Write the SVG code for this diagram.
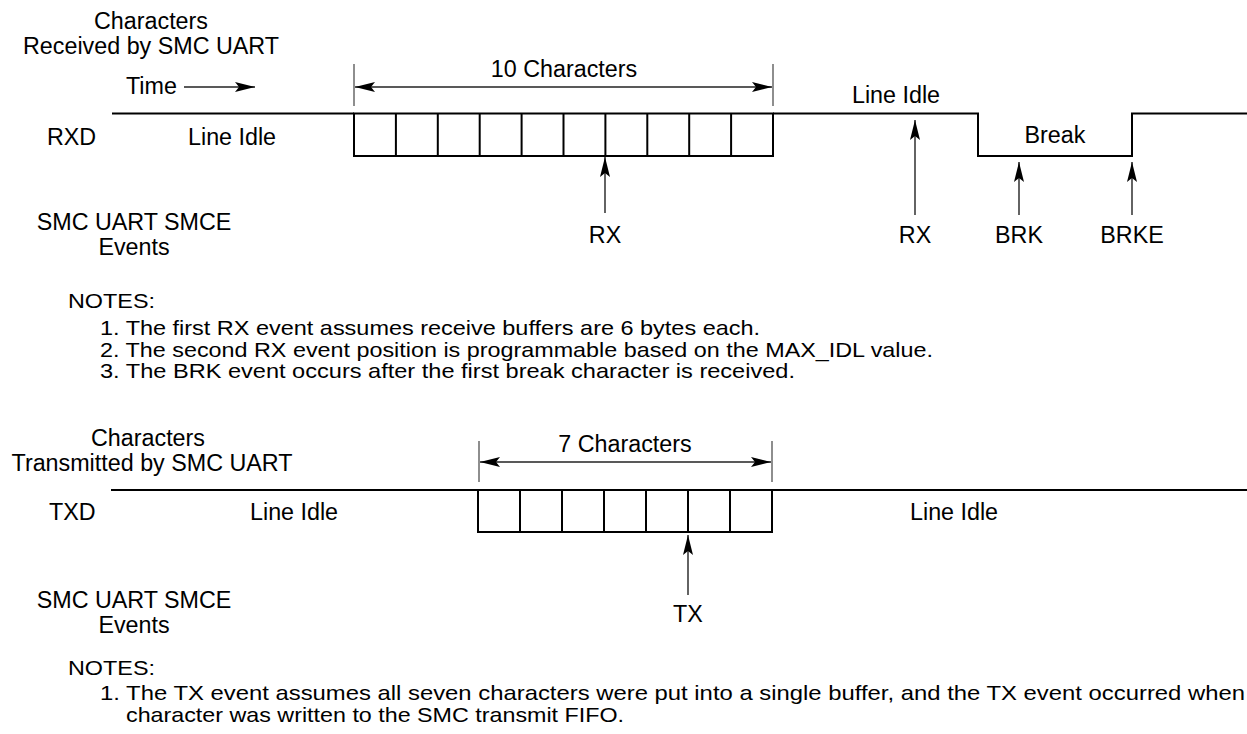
<svg xmlns="http://www.w3.org/2000/svg" width="1247" height="734" viewBox="0 0 1247 734">
<style>
text{font-family:"Liberation Sans",Arial,sans-serif;fill:#000}
.l{font-size:23.3px}
.n{font-size:21px}
.c{text-anchor:middle}
.sig{fill:none;stroke:#000;stroke-width:2}
.ar{fill:none;stroke:#222;stroke-width:1.4}
.tk{fill:none;stroke:#444;stroke-width:1.2}
</style>
<defs>
<marker id="ah" markerUnits="userSpaceOnUse" markerWidth="22" markerHeight="12" refX="20" refY="5" orient="auto-start-reverse" viewBox="0 0 22 10">
<path d="M0,0 L20,5 L0,10 L4,5 z" fill="#000"/>
</marker>
</defs>
<rect width="1247" height="734" fill="#fff"/>

<g id="rx-header">
<text class="l c" x="151" y="29">Characters</text>
<text class="l c" x="151" y="54">Received by SMC UART</text>
<text class="l" x="126" y="94">Time</text>
</g>
<g id="rxd-label"><text class="l" x="47" y="145">RXD</text></g>
<g id="rx-idle1"><text class="l" x="188" y="145">Line Idle</text></g>
<g id="rx-10chars"><text class="l c" x="564" y="77">10 Characters</text></g>
<g id="rx-idle2"><text class="l c" x="896" y="103">Line Idle</text></g>
<g id="rx-break"><text class="l c" x="1055" y="143">Break</text></g>

<g id="rxd-signal">
<path class="sig" d="M112,113.5 H354 M773,113.5 H978 V156 H1132 V113.5 H1247"/>
<rect class="sig" x="354" y="113.5" width="419" height="42.5"/>
<path class="sig" d="M395.9,113.5V156 M437.8,113.5V156 M479.7,113.5V156 M521.6,113.5V156 M563.5,113.5V156 M605.4,113.5V156 M647.3,113.5V156 M689.2,113.5V156 M731.1,113.5V156"/>
</g>

<g id="rx-events-label">
<text class="l c" x="134" y="230">SMC UART SMCE</text>
<text class="l c" x="134" y="255">Events</text>
</g>
<g id="ev-rx1"><text class="l c" x="605" y="243">RX</text></g>
<g id="ev-rx2"><text class="l c" x="915" y="243">RX</text></g>
<g id="ev-brk"><text class="l c" x="1019" y="243">BRK</text></g>
<g id="ev-brke"><text class="l c" x="1132" y="243">BRKE</text></g>

<g id="rx-notes">
<text class="n" x="68" y="308" textLength="87" lengthAdjust="spacingAndGlyphs">NOTES:</text>
<text class="n" x="100" y="335" textLength="660" lengthAdjust="spacingAndGlyphs">1. The first RX event assumes receive buffers are 6 bytes each.</text>
<text class="n" x="100" y="357" textLength="833" lengthAdjust="spacingAndGlyphs">2. The second RX event position is programmable based on the MAX_IDL value.</text>
<text class="n" x="100" y="378" textLength="695" lengthAdjust="spacingAndGlyphs">3. The BRK event occurs after the first break character is received.</text>
</g>

<g id="tx-header">
<text class="l c" x="148" y="446">Characters</text>
<text class="l c" x="152" y="471">Transmitted by SMC UART</text>
</g>
<g id="txd-label"><text class="l" x="49" y="520">TXD</text></g>
<g id="tx-idle1"><text class="l" x="250" y="520">Line Idle</text></g>
<g id="tx-7chars"><text class="l c" x="625" y="452">7 Characters</text></g>
<g id="tx-idle2"><text class="l" x="910" y="520">Line Idle</text></g>

<g id="txd-signal">
<path class="sig" d="M111,490 H1247"/>
<rect class="sig" x="478" y="490" width="294" height="42"/>
<path class="sig" d="M520,490V532 M562,490V532 M604,490V532 M646,490V532 M688,490V532 M730,490V532"/>
</g>

<g id="tx-events-label">
<text class="l c" x="134" y="608">SMC UART SMCE</text>
<text class="l c" x="134" y="633">Events</text>
</g>
<g id="ev-tx"><text class="l c" x="688" y="622">TX</text></g>

<g id="tx-notes">
<text class="n" x="68" y="675" textLength="87" lengthAdjust="spacingAndGlyphs">NOTES:</text>
<text class="n" x="100" y="700" textLength="1145" lengthAdjust="spacingAndGlyphs">1. The TX event assumes all seven characters were put into a single buffer, and the TX event occurred when</text>
<text class="n" x="126" y="722" textLength="498" lengthAdjust="spacingAndGlyphs">character was written to the SMC transmit FIFO.</text>
</g>

<g id="connectors">
<path class="ar" marker-end="url(#ah)" d="M184,87 H255"/>
<path class="tk" d="M354,64 V106 M773,64 V106"/>
<path class="ar" marker-start="url(#ah)" marker-end="url(#ah)" d="M355,87 H772"/>
<path class="ar" marker-end="url(#ah)" d="M605,213 V157"/>
<path class="ar" marker-end="url(#ah)" d="M915,215 V120"/>
<path class="ar" marker-end="url(#ah)" d="M1019,215 V162"/>
<path class="ar" marker-end="url(#ah)" d="M1132,215 V162"/>
<path class="tk" d="M479,441 V482 M772,441 V482"/>
<path class="ar" marker-start="url(#ah)" marker-end="url(#ah)" d="M480,462 H771"/>
<path class="ar" marker-end="url(#ah)" d="M688,595 V535"/>
</g>
</svg>
